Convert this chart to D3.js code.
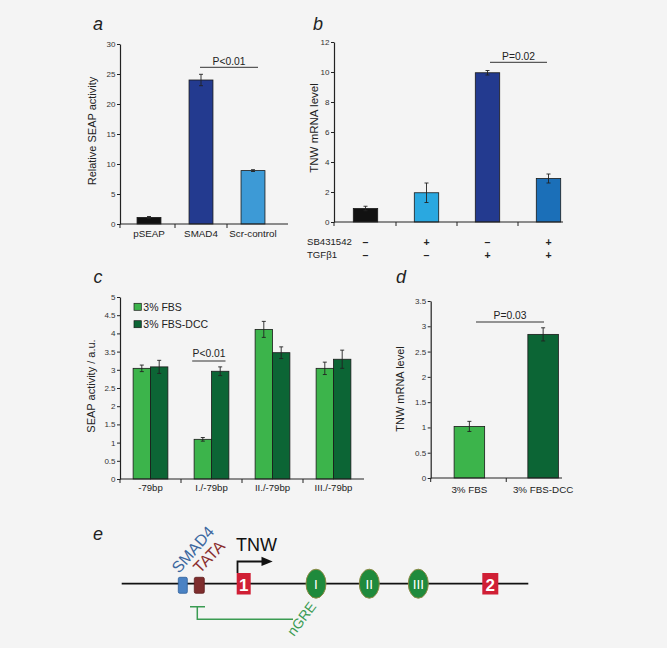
<!DOCTYPE html>
<html><head><meta charset="utf-8">
<script src="https://cdn.jsdelivr.net/npm/d3@7"></script>
<style>
html,body{margin:0;padding:0;background:#f4f4f4;}
svg{display:block;font-family:"Liberation Sans",Arial,sans-serif;}
</style></head><body>
<svg id="chart" width="667" height="648"></svg>
<script>
// ---------- DATA ----------
// panel a
const aCategories = ["pSEAP", "SMAD4", "Scr-control"];
const aValues = [1.1, 24.0, 8.9];
const aErrors = [0.15, 0.95, 0.15];
const aTicks = [0, 5, 10, 15, 20, 25, 30];
const aPLabel = "P<0.01";
// panel b
const bCategories = ["g1", "g2", "g3", "g4"];
const bValues = [0.9, 1.95, 9.95, 2.9];
const bErrors = [0.15, 0.65, 0.15, 0.3];
const bSB431542 = ["\u2013", "+", "\u2013", "+"];
const bTGFb1 = ["\u2013", "\u2013", "+", "+"];
const bRowLabels = ["SB431542", "TGF\u03b21"];
const bTicks = [0, 2, 4, 6, 8, 10, 12];
const bPLabel = "P=0.02";
// panel c
const cCategories = ["-79bp", "I./-79bp", "II./-79bp", "III./-79bp"];
const cSeries = ["3% FBS", "3% FBS-DCC"];
const cFBS = [3.04, 1.09, 4.11, 3.04];
const cFBSErr = [0.09, 0.05, 0.22, 0.17];
const cDCC = [3.08, 2.96, 3.47, 3.29];
const cDCCErr = [0.18, 0.12, 0.16, 0.25];
const cTicks = [0, 0.5, 1, 1.5, 2, 2.5, 3, 3.5, 4, 4.5, 5];
const cPLabel = "P<0.01";
// panel d
const dCategories = ["3% FBS", "3% FBS-DCC"];
const dValues = [1.02, 2.84];
const dErrors = [0.1, 0.13];
const dTicks = [0, 0.5, 1, 1.5, 2, 2.5, 3, 3.5];
const dPLabel = "P=0.03";
// panel e (gene schematic)
const eExons = ["1", "2"];
const eElements = ["I", "II", "III"];
const eLabels = ["SMAD4", "TATA", "TNW", "nGRE"];

// ---------- STYLE ----------
const FONT = "Liberation Sans, Arial, sans-serif";
const AX = "#222";
const aColors = ["#111111", "#233a8f", "#3d9ad6"];
const bColors = ["#111111", "#2aa8e0", "#233a8f", "#1b6fb8"];
const cColors = ["#3cb44b", "#0c6535"];

const svg = d3.select("#chart");
svg.append("rect").attr("width", 667).attr("height", 648).attr("fill", "#f4f4f4");

function yAxis(x, y, ticks) {
  const g = svg.append("g").attr("transform", `translate(${x},0)`)
    .call(d3.axisLeft(y).tickValues(ticks).tickSize(3).tickSizeOuter(0).tickFormat(d => d));
  g.attr("font-family", FONT);
  g.select(".domain").attr("stroke", AX).attr("stroke-width", 1.2);
  g.selectAll(".tick line").attr("stroke", AX);
  g.selectAll(".tick text").attr("font-size", 8).attr("fill", "#333").attr("x", -4.5);
  return g;
}
function xAxisLine(x0, x1, y, tickXs) {
  svg.append("line").attr("x1", x0).attr("x2", x1).attr("y1", y).attr("y2", y)
    .attr("stroke", AX).attr("stroke-width", 1.2);
  svg.selectAll(null).data(tickXs).enter().append("line")
    .attr("x1", d => d).attr("x2", d => d).attr("y1", y).attr("y2", y + 4)
    .attr("stroke", AX).attr("stroke-width", 1);
}
function midTicks(scale, cats) {
  const c = cats.map(k => scale(k) + scale.bandwidth() / 2);
  const out = [];
  for (let i = 0; i < c.length - 1; i++) out.push((c[i] + c[i + 1]) / 2);
  return out;
}
function errBar(cx, yHi, yLo) {
  const g = svg.append("g").attr("stroke", "#222").attr("stroke-width", 0.9);
  g.append("line").attr("x1", cx).attr("x2", cx).attr("y1", yHi).attr("y2", yLo);
  g.append("line").attr("x1", cx - 2).attr("x2", cx + 2).attr("y1", yHi).attr("y2", yHi);
  g.append("line").attr("x1", cx - 2).attr("x2", cx + 2).attr("y1", yLo).attr("y2", yLo);
}
function text(x, y, s, size, opts = {}) {
  const t = svg.append("text").text(s)
    .attr("font-size", size).attr("font-family", FONT)
    .attr("fill", opts.fill || "#222")
    .attr("text-anchor", opts.anchor || "middle");
  if (opts.rotate !== undefined) {
    t.attr("x", 0).attr("y", 0).attr("transform", `translate(${x},${y}) rotate(${opts.rotate})`);
  } else {
    t.attr("x", x).attr("y", y);
  }
  if (opts.italic) t.attr("font-style", "italic");
  if (opts.weight) t.attr("font-weight", opts.weight);
  return t;
}
function pBar(x0, x1, y, label, ty) {
  svg.append("line").attr("x1", x0).attr("x2", x1).attr("y1", y).attr("y2", y)
    .attr("stroke", "#333").attr("stroke-width", 1);
  text((x0 + x1) / 2, ty, label, 10.3);
}

// ---------- PANEL A ----------
{
  const y = d3.scaleLinear().domain([0, 30]).range([224, 44]);
  const x = d3.scaleBand().domain(aCategories).range([123, 279]).paddingInner(0.54).paddingOuter(0.27);
  svg.selectAll(null).data(aCategories).enter().append("rect")
    .attr("x", d => x(d)).attr("width", x.bandwidth())
    .attr("y", (d, i) => y(aValues[i])).attr("height", (d, i) => y(0) - y(aValues[i]))
    .attr("fill", (d, i) => aColors[i]).attr("stroke", "#1a1a1a").attr("stroke-width", 0.8);
  aCategories.forEach((c, i) => errBar(x(c) + x.bandwidth() / 2, y(aValues[i] + aErrors[i]), y(aValues[i] - aErrors[i])));
  yAxis(120, y, aTicks);
  xAxisLine(120, 288, 224, [120, ...midTicks(x, aCategories)]);
  aCategories.forEach(c => text(x(c) + x.bandwidth() / 2, 237, c, 9.8));
  text(96, 131, "Relative SEAP activity", 11, { rotate: -90 });
  pBar(200, 258, 67.3, aPLabel, 65);
  text(98, 30, "a", 18, { italic: true });
}

// ---------- PANEL B ----------
{
  const y = d3.scaleLinear().domain([0, 12]).range([222, 42]);
  const x = d3.scaleBand().domain(bCategories).range([335, 579]).paddingInner(0.6).paddingOuter(0.3);
  svg.selectAll(null).data(bCategories).enter().append("rect")
    .attr("x", d => x(d)).attr("width", x.bandwidth())
    .attr("y", (d, i) => y(bValues[i])).attr("height", (d, i) => y(0) - y(bValues[i]))
    .attr("fill", (d, i) => bColors[i]).attr("stroke", "#1a1a1a").attr("stroke-width", 0.8);
  bCategories.forEach((c, i) => errBar(x(c) + x.bandwidth() / 2, y(bValues[i] + bErrors[i]), y(bValues[i] - bErrors[i])));
  yAxis(334, y, bTicks);
  xAxisLine(334, 563, 222, [334, ...midTicks(x, bCategories)]);
  text(307, 245, bRowLabels[0], 9.6, { anchor: "start" });
  text(307, 258, bRowLabels[1], 9.6, { anchor: "start" });
  bCategories.forEach((c, i) => {
    const cx = x(c) + x.bandwidth() / 2;
    text(cx, 245.5, bSB431542[i], 10.5, { weight: "bold" });
    text(cx, 258.5, bTGFb1[i], 10.5, { weight: "bold" });
  });
  text(318, 128, "TNW mRNA level", 11.5, { rotate: -90 });
  pBar(490, 547, 62.3, bPLabel, 60);
  text(318, 30, "b", 18, { italic: true });
}

// ---------- PANEL C ----------
{
  const y = d3.scaleLinear().domain([0, 5]).range([479, 297]);
  const x = d3.scaleBand().domain(cCategories).range([120, 364]).paddingInner(0.43).paddingOuter(0.215);
  const xs = d3.scaleBand().domain(cSeries).range([0, x.bandwidth()]);
  const series = [{ v: cFBS, e: cFBSErr }, { v: cDCC, e: cDCCErr }];
  series.forEach((s, si) => {
    svg.selectAll(null).data(cCategories).enter().append("rect")
      .attr("x", d => x(d) + xs(cSeries[si])).attr("width", xs.bandwidth())
      .attr("y", (d, i) => y(s.v[i])).attr("height", (d, i) => y(0) - y(s.v[i]))
      .attr("fill", cColors[si]).attr("stroke", "#1a1a1a").attr("stroke-width", 0.8);
  });
  series.forEach((s, si) => cCategories.forEach((c, i) =>
    errBar(x(c) + xs(cSeries[si]) + xs.bandwidth() / 2, y(s.v[i] + s.e[i]), y(s.v[i] - s.e[i]))));
  yAxis(120, y, cTicks);
  xAxisLine(120, 364, 479, [120, ...midTicks(x, cCategories)]);
  cCategories.forEach(c => text(x(c) + x.bandwidth() / 2, 491, c, 9.6));
  text(95, 386, "SEAP activity / a.u.", 11, { rotate: -90 });
  // legend
  cSeries.forEach((s, i) => {
    svg.append("rect").attr("x", 134).attr("y", 303.3 + i * 17.4).attr("width", 7.3).attr("height", 7)
      .attr("fill", cColors[i]).attr("stroke", "#1a1a1a").attr("stroke-width", 0.7);
    text(143.3, 310.7 + i * 17.4, s, 10.5, { anchor: "start" });
  });
  // P annotation (underlined)
  const i1 = cCategories[1];
  const gx = x(i1) + x.bandwidth() / 2;
  text(gx - 2.5, 357.3, cPLabel, 10.3);
  svg.append("line").attr("x1", gx - 19.3).attr("x2", gx + 14).attr("y1", 361).attr("y2", 361)
    .attr("stroke", "#333").attr("stroke-width", 1);
  text(98, 283, "c", 18, { italic: true });
}

// ---------- PANEL D ----------
{
  const y = d3.scaleLinear().domain([0, 3.5]).range([478, 301]);
  const x = d3.scaleBand().domain(dCategories).range([432.5, 580]).paddingInner(0.586).paddingOuter(0.293);
  svg.selectAll(null).data(dCategories).enter().append("rect")
    .attr("x", d => x(d)).attr("width", x.bandwidth())
    .attr("y", (d, i) => y(dValues[i])).attr("height", (d, i) => y(0) - y(dValues[i]))
    .attr("fill", (d, i) => cColors[i]).attr("stroke", "#1a1a1a").attr("stroke-width", 0.8);
  dCategories.forEach((c, i) => errBar(x(c) + x.bandwidth() / 2, y(dValues[i] + dErrors[i]), y(dValues[i] - dErrors[i])));
  yAxis(430.7, y, dTicks);
  xAxisLine(430.7, 562, 478, [430.7, ...midTicks(x, dCategories)]);
  dCategories.forEach(c => text(x(c) + x.bandwidth() / 2, 492.5, c, 9.8));
  text(404.3, 389, "TNW mRNA level", 11, { rotate: -90 });
  pBar(476, 544, 322, dPLabel, 319);
  text(401, 283, "d", 18, { italic: true });
}

// ---------- PANEL E ----------
{
  const lineY = 583.7;
  svg.append("line").attr("x1", 121.7).attr("x2", 528.3).attr("y1", lineY).attr("y2", lineY)
    .attr("stroke", "#111").attr("stroke-width", 1.8);
  // SMAD4 & TATA boxes
  svg.append("rect").attr("x", 178.3).attr("y", 577.3).attr("width", 9).attr("height", 16).attr("rx", 1.5)
    .attr("fill", "#4a82c4").attr("stroke", "#2f5f9a").attr("stroke-width", 0.8);
  svg.append("rect").attr("x", 194.3).attr("y", 577.3).attr("width", 10).attr("height", 16).attr("rx", 1.5)
    .attr("fill", "#7e2d2d").attr("stroke", "#5e1e1e").attr("stroke-width", 0.8);
  text(179, 574, eLabels[0], 16, { anchor: "start", rotate: -49, fill: "#3b679f" });
  text(200, 574, eLabels[1], 16, { anchor: "start", rotate: -46, fill: "#8a2e2e" });
  // exons
  const exonX = [236.7, 482.3];
  const exonW = [14, 16];
  eExons.forEach((e, i) => {
    svg.append("rect").attr("x", exonX[i]).attr("y", 573).attr("width", exonW[i]).attr("height", 21.5)
      .attr("fill", "#d01f35");
    text(exonX[i] + exonW[i] / 2, 590.5, e, 17, { fill: "#fff", weight: "bold" });
  });
  // TSS arrow
  svg.append("path").attr("d", "M237.5,573 V561.5 H263").attr("fill", "none")
    .attr("stroke", "#111").attr("stroke-width", 1.8);
  svg.append("path").attr("d", "M261.5,556.7 L272.7,561.5 L261.5,566 Z").attr("fill", "#111");
  text(236, 550.7, eLabels[2], 18, { anchor: "start", fill: "#111" });
  // elements I, II, III
  const elX = [316, 369.3, 418.3];
  eElements.forEach((e, i) => {
    svg.append("ellipse").attr("cx", elX[i]).attr("cy", lineY).attr("rx", 10).attr("ry", 14.5)
      .attr("fill", "#1f8a3c").attr("stroke", "#8c8a45").attr("stroke-width", 1);
    text(elX[i], lineY + 5, e, 13.5, { fill: "#fff" }).attr("font-weight", 300);
  });
  // nGRE bracket
  const gc = "#3a9b52";
  svg.append("path").attr("d", "M190,606.7 H205 M197.3,606.7 V619.3 H293").attr("fill", "none")
    .attr("stroke", gc).attr("stroke-width", 1.5);
  text(294, 637, eLabels[3], 14, { anchor: "start", rotate: -53, fill: gc });
  text(98, 540, "e", 18, { italic: true });
}
</script>
</body></html>
